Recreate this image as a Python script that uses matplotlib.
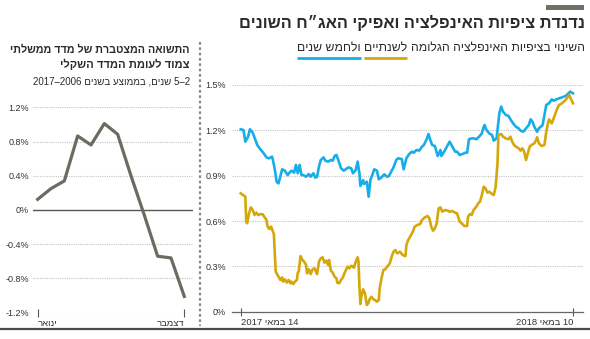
import re
import matplotlib
matplotlib.use("Agg")
import matplotlib.pyplot as plt
from matplotlib.lines import Line2D

plt.rcParams['font.family'] = ['Liberation Sans Narrow', 'Liberation Sans', 'DejaVu Sans']

W, H = 590, 339

# left panel - cumulative return by month
month_labels = ['ינואר', 'דצמבר']
month_vals = [0.125, 0.25, 0.34, 0.865, 0.76, 1.01, 0.885, 0.40, -0.06, -0.54, -0.56, -1.01]
left_ticks = [-1.2, -0.8, -0.4, 0, 0.4, 0.8, 1.2]

# right panel - change in implied inflation expectations (days since 14 May 2017)
date_labels = ['14 במאי 2017', '10 במאי 2018']
blue_days = [0, 3, 5, 8, 10, 13, 16, 18, 21, 25,
             28, 31, 34, 35, 37, 39, 41, 43, 45, 48,
             51, 53, 55, 58, 60, 62, 64, 66, 68, 71,
             74, 76, 79, 81, 83, 85, 87, 90, 92, 95,
             98, 100, 102, 104, 106, 109, 112, 114, 117, 120,
             122, 125, 127, 129, 130, 133, 134, 137, 139, 141,
             143, 145, 148, 150, 153, 156, 159, 161, 166, 169,
             171, 175, 177, 180, 183, 186, 188, 191, 194, 197,
             199, 202, 204, 206, 208, 211, 214, 217, 218, 221,
             224, 227, 230, 233, 235, 238, 241, 244, 246, 248,
             251, 253, 256, 259, 262, 264, 265, 267, 270, 273,
             275, 278, 281, 283, 285, 288, 291, 293, 296, 299,
             302, 304, 307, 310, 313, 315, 317, 319, 322, 324,
             326, 328, 331, 332, 335, 338, 340, 343, 346, 349,
             351, 353, 356, 358, 360, 361]
blue_vals = [1.207, 1.202, 1.125, 1.158, 1.207, 1.185, 1.136, 1.103, 1.077, 1.048,
             1.021, 1.015, 1.026, 1.004, 0.942, 0.860, 0.849, 0.893, 0.942, 0.933,
             0.904, 0.920, 0.933, 0.920, 0.971, 0.916, 0.971, 0.904, 0.904, 0.893,
             0.911, 0.893, 0.916, 0.887, 0.893, 0.960, 1.004, 1.021, 0.999, 0.993,
             1.004, 0.999, 1.030, 1.037, 1.004, 0.949, 0.933, 0.942, 0.955, 0.949,
             0.916, 0.938, 0.993, 0.916, 0.832, 0.871, 0.845, 0.860, 0.761, 0.876,
             0.904, 0.942, 0.933, 0.876, 0.889, 0.909, 0.893, 0.898, 0.955, 1.004,
             1.015, 1.010, 0.942, 1.015, 1.043, 1.059, 1.052, 1.070, 1.066, 1.092,
             1.103, 1.141, 1.176, 1.136, 1.103, 1.096, 1.030, 1.070, 1.030, 1.059,
             1.092, 1.125, 1.092, 1.059, 1.059, 1.037, 1.043, 1.052, 1.052, 1.141,
             1.147, 1.147, 1.141, 1.158, 1.180, 1.224, 1.235, 1.202, 1.180, 1.169,
             1.132, 1.147, 1.313, 1.357, 1.324, 1.302, 1.295, 1.273, 1.246, 1.224,
             1.213, 1.198, 1.191, 1.213, 1.235, 1.273, 1.257, 1.224, 1.191, 1.213,
             1.224, 1.235, 1.335, 1.368, 1.379, 1.405, 1.396, 1.405, 1.412, 1.418,
             1.423, 1.427, 1.445, 1.456, 1.449, 1.445]
gold_days = [0, 5, 6, 7, 9, 11, 13, 15, 17, 19,
             22, 24, 25, 28, 29, 31, 33, 35, 36, 38,
             39, 41, 43, 45, 46, 48, 50, 52, 54, 55,
             57, 59, 61, 62, 63, 65, 67, 69, 71, 72,
             74, 76, 78, 80, 81, 83, 85, 87, 89, 91,
             93, 95, 96, 98, 100, 102, 104, 105, 107, 109,
             111, 113, 114, 116, 118, 120, 122, 123, 125, 127,
             128, 129, 130, 131, 133, 135, 137, 139, 140, 142,
             144, 146, 148, 150, 151, 153, 155, 157, 159, 160,
             162, 164, 166, 168, 170, 173, 176, 179, 180, 182,
             185, 187, 189, 192, 195, 197, 200, 203, 205, 207,
             209, 211, 213, 215, 217, 219, 222, 225, 227, 230,
             233, 235, 238, 240, 243, 246, 247, 249, 251, 253,
             256, 258, 260, 262, 264, 266, 268, 270, 273, 275,
             277, 279, 280, 283, 285, 288, 291, 293, 295, 297,
             299, 302, 304, 306, 308, 310, 312, 314, 316, 319,
             321, 322, 324, 327, 330, 332, 334, 335, 338, 340,
             342, 344, 346, 349, 351, 353, 355, 357, 359, 361]
gold_vals = [0.783, 0.761, 0.596, 0.585, 0.651, 0.690, 0.673, 0.640, 0.655, 0.640,
             0.646, 0.644, 0.633, 0.607, 0.567, 0.547, 0.563, 0.529, 0.514, 0.265,
             0.254, 0.232, 0.210, 0.227, 0.199, 0.214, 0.192, 0.210, 0.188, 0.199,
             0.183, 0.199, 0.210, 0.258, 0.265, 0.368, 0.342, 0.331, 0.309, 0.254,
             0.280, 0.249, 0.280, 0.287, 0.276, 0.249, 0.331, 0.353, 0.360, 0.324,
             0.338, 0.309, 0.342, 0.271, 0.258, 0.232, 0.221, 0.192, 0.188, 0.210,
             0.227, 0.258, 0.271, 0.298, 0.287, 0.304, 0.298, 0.291, 0.331, 0.360,
             0.331, 0.165, 0.051, 0.099, 0.148, 0.121, 0.044, 0.060, 0.082, 0.099,
             0.082, 0.077, 0.066, 0.077, 0.154, 0.221, 0.276, 0.280, 0.298, 0.304,
             0.320, 0.364, 0.397, 0.408, 0.386, 0.397, 0.375, 0.368, 0.441, 0.474,
             0.507, 0.529, 0.563, 0.574, 0.580, 0.607, 0.624, 0.633, 0.618, 0.563,
             0.536, 0.552, 0.585, 0.684, 0.690, 0.662, 0.673, 0.668, 0.662, 0.666,
             0.655, 0.651, 0.596, 0.585, 0.567, 0.567, 0.629, 0.646, 0.640, 0.673,
             0.695, 0.717, 0.728, 0.772, 0.827, 0.816, 0.788, 0.794, 0.779, 0.772,
             0.827, 0.982, 1.169, 1.176, 1.158, 1.147, 1.141, 1.158, 1.125, 1.103,
             1.092, 1.081, 1.066, 1.081, 1.059, 1.004, 1.048, 1.092, 1.103, 1.114,
             1.136, 1.154, 1.114, 1.096, 1.103, 1.191, 1.251, 1.273, 1.246, 1.279,
             1.313, 1.346, 1.368, 1.379, 1.390, 1.401, 1.418, 1.434, 1.405, 1.379]
right_ticks = [0, 0.3, 0.6, 0.9, 1.2, 1.5]

BLUE = '#17aee8'
GOLD = '#d6a70a'
OLIVE = '#6b6c60'
GRID = '#c4c4c4'
TXT = '#2a2a2a'


def vis(s):
    # hebrew -> visual order for a left-to-right renderer, keep number runs intact
    parts = re.findall(r'[0-9.%]+|[^0-9.%]', s)
    return ''.join(parts[::-1])


def fx(x):
    return x / W


def fy(y):
    return 1 - y / H


fig = plt.figure(figsize=(W / 100, H / 100), dpi=100)
renderer = fig.canvas.get_renderer()


def fit(t, width_px):
    # shrink/grow a text so it is as wide as in the reference
    w = t.get_window_extent(renderer).width
    t.set_fontsize(t.get_fontsize() * width_px / w)
    return t


# header
fig.patches.append(plt.Rectangle((fx(546), fy(10)), 38 / W, 5 / H, transform=fig.transFigure,
                                 color='#707069', lw=0))
fit(fig.text(fx(585), fy(23), vis('נדנדת ציפיות האינפלציה ואפיקי האג״ח השונים'),
             ha='right', va='center', fontsize=14, fontweight='bold', color=TXT), 347)

fit(fig.text(fx(190), fy(50), vis('התשואה המצטברת של מדד ממשלתי'),
             ha='right', va='center', fontsize=11, fontweight='bold', color=TXT), 180)
fit(fig.text(fx(190), fy(64), vis('צמוד לעומת המדד השקלי'),
             ha='right', va='center', fontsize=11, fontweight='bold', color=TXT), 127)
fit(fig.text(fx(190), fy(81), vis('2–5 שנים, בממוצע בשנים 2006–2017'),
             ha='right', va='center', fontsize=8.5, color=TXT), 158)

# right subtitle in pieces so the coloured underlines sit under the right words
full = fig.text(0, 0, vis('השינוי בציפיות האינפלציה הגלומה לשנתיים ולחמש שנים'), fontsize=11)
sub_fs = 11 * 287 / full.get_window_extent(renderer).width
full.remove()
gap = 3.5 / W
pieces = [('השינוי בציפיות האינפלציה הגלומה', None),
          ('לשנתיים', GOLD), ('ולחמש שנים', BLUE)]
xr = fx(585)
for word, col in pieces:
    t = fig.text(xr, fy(48), vis(word), ha='right', va='center', fontsize=sub_fs, color=TXT)
    bb = t.get_window_extent(renderer).transformed(fig.transFigure.inverted())
    if col:
        fig.add_artist(Line2D([bb.x0, bb.x1], [fy(57.5), fy(57.5)], color=col, lw=2.0,
                              solid_capstyle='butt', transform=fig.transFigure))
    xr = bb.x0 - gap

# divider and bottom rule
fig.add_artist(Line2D([fx(200), fx(200)], [fy(42), fy(326)], color='#8a8a8a', lw=1.6,
                      ls=(0, (1.2, 1.2)), transform=fig.transFigure))
fig.add_artist(Line2D([0, 1], [fy(329), fy(329)], color='#4a4a4a', lw=1.6,
                      transform=fig.transFigure))

# left panel
ax1 = fig.add_axes([fx(33), fy(312.7), (192.7 - 33) / W, (312.7 - 107.3) / H])
ax1.plot(range(len(month_vals)), month_vals, color=OLIVE, lw=2.3, zorder=3)
ax1.set_xlim(-0.35, 11.63)
ax1.set_ylim(-1.2, 1.2)
for v in left_ticks:
    if v == 0:
        ax1.axhline(v, color='#555555', lw=1.0, zorder=2)
    else:
        ax1.axhline(v, color=GRID, lw=0.8, ls=(0, (1, 1)), zorder=1)
ax1.set_yticks(left_ticks)
ax1.set_yticklabels(['{:g}%'.format(v) for v in left_ticks])
ax1.set_xticks([0, 11])
ax1.set_xticklabels([vis(m) for m in month_labels])
ax1.xaxis.get_majorticklabels()[0].set_horizontalalignment('left')
ax1.xaxis.get_majorticklabels()[1].set_horizontalalignment('right')
ax1.tick_params(axis='y', length=0, pad=3, labelsize=6.5, labelcolor='#333333')
ax1.tick_params(axis='x', direction='inout', length=6, width=0.8, color='#555555', pad=1.5,
                labelsize=6.8, labelcolor='#333333')
for sp in ax1.spines.values():
    sp.set_visible(False)
ax1.patch.set_alpha(0)

# right panel
ax2 = fig.add_axes([fx(231.7), fy(311.7), (583 - 231.7) / W, (311.7 - 85) / H])
ax2.plot(blue_days, blue_vals, color=BLUE, lw=1.9, zorder=3)
ax2.plot(gold_days, gold_vals, color=GOLD, lw=1.9, zorder=3)
ax2.set_xlim(-9.8, 371.9)
ax2.set_ylim(0, 1.5)
for v in right_ticks[1:]:
    ax2.axhline(v, color=GRID, lw=0.8, ls=(0, (1, 1)), zorder=1)
ax2.set_yticks(right_ticks)
ax2.set_yticklabels(['{:g}%'.format(v) for v in right_ticks])
ax2.set_xticks([0, 361])
ax2.set_xticklabels([vis(d) for d in date_labels])
ax2.xaxis.get_majorticklabels()[0].set_horizontalalignment('left')
ax2.xaxis.get_majorticklabels()[1].set_horizontalalignment('right')
ax2.tick_params(axis='y', length=0, pad=4, labelsize=6.5, labelcolor='#333333')
ax2.tick_params(axis='x', direction='inout', length=6, width=0.8, color='#555555', pad=1.5,
                labelsize=6.8, labelcolor='#333333')
for sp in ['top', 'right', 'left']:
    ax2.spines[sp].set_visible(False)
ax2.spines['bottom'].set_color('#666666')
ax2.spines['bottom'].set_linewidth(0.9)
ax2.patch.set_alpha(0)

fig.savefig('out.png', dpi=100)
